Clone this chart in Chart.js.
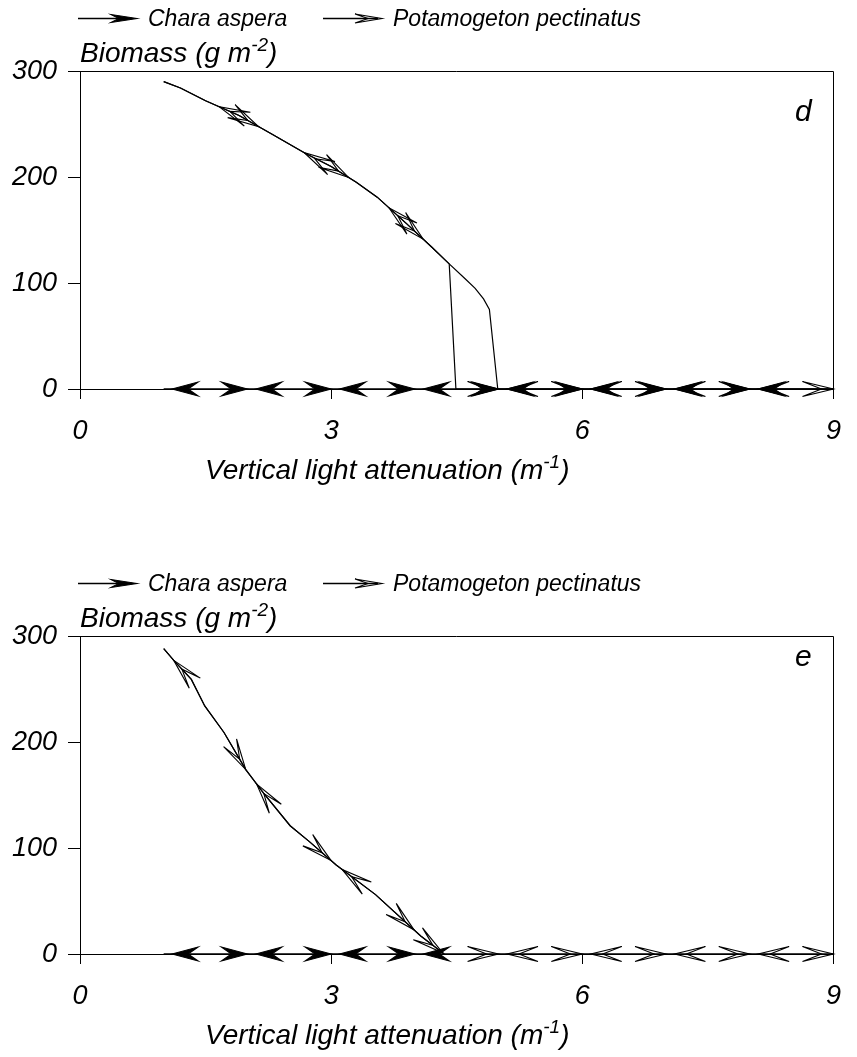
<!DOCTYPE html>
<html>
<head>
<meta charset="utf-8">
<script src="https://cdn.jsdelivr.net/npm/chart.js@4.4.1/dist/chart.umd.min.js"></script>
<style>
  html, body { margin: 0; padding: 0; background: #fff; overflow: hidden; }
  .panel { position: absolute; left: 0; width: 857px; }
  .panel canvas { position: absolute; left: 0; top: 0; }
  .txt { position: absolute; font-family: "Liberation Sans", Arial, sans-serif; font-style: italic;
         color: #000; white-space: nowrap; }
  .leg { font-size: 23px; line-height: 23px; top: 7px; }
  .ytitle { font-size: 28px; line-height: 28px; left: 80px; top: 39px; }
  .xtitle { font-size: 28px; line-height: 28px; left: 205px; top: 456px; }
  .letter { font-size: 30px; line-height: 30px; left: 795px; }
  .sup { font-size: 68%; position: relative; top: -0.6em; }
</style>
</head>
<body>

<div class="panel" style="top:0;height:565px">
  <canvas id="chartD" width="857" height="565"></canvas>
  <div class="txt leg" style="left:148px">Chara aspera</div>
  <div class="txt leg" style="left:393px">Potamogeton pectinatus</div>
  <div class="txt ytitle">Biomass (g m<span class="sup">-2</span>)</div>
  <div class="txt xtitle">Vertical light attenuation (m<span class="sup">-1</span>)</div>
  <div class="txt letter" style="top:96px">d</div>
</div>

<div class="panel" style="top:565px;height:492px">
  <canvas id="chartE" width="857" height="492"></canvas>
  <div class="txt leg" style="left:148px">Chara aspera</div>
  <div class="txt leg" style="left:393px">Potamogeton pectinatus</div>
  <div class="txt ytitle">Biomass (g m<span class="sup">-2</span>)</div>
  <div class="txt xtitle">Vertical light attenuation (m<span class="sup">-1</span>)</div>
  <div class="txt letter" style="top:76px">e</div>
</div>

<script>
// axis ticks
var xTicks = [0, 3, 6, 9];
var yTicks = [0, 100, 200, 300];

// panel d - Potamogeton, increasing attenuation (upper branch, collapse near 5)
var potUpX_d = [1.0, 1.2, 1.5, 1.9, 2.3, 2.7, 3.0, 3.3, 3.55, 3.9, 4.2, 4.41, 4.6, 4.72, 4.82, 4.89, 4.99, 9];
var potUpY_d = [290, 284, 272, 258, 240, 222, 210, 195, 181, 156, 134, 118, 104, 95, 85, 75, 0, 0];
// panel d - Potamogeton, decreasing attenuation (recovers near 4.45)
var potDownX_d = [9, 4.49, 4.41, 4.2, 3.9, 3.55, 3.3, 3.0, 2.7, 2.3, 1.9, 1.5, 1.2, 1.0];
var potDownY_d = [0, 0, 118, 134, 156, 181, 195, 210, 222, 240, 258, 272, 284, 290];
// panel d - Chara stays at zero both ways
var charaUpX_d = [1, 9];
var charaUpY_d = [0, 0];
var charaDownX_d = [9, 1];
var charaDownY_d = [0, 0];

// panel e - Potamogeton, same branch both ways
var potUpX_e = [1.0, 1.12, 1.33, 1.49, 1.72, 1.98, 2.19, 2.51, 2.74, 3.06, 3.53, 4.07, 4.35, 9];
var potUpY_e = [288, 277, 259, 234, 209, 174, 152, 121, 106, 84, 56, 17, 0, 0];
var potDownX_e = [9, 4.35, 4.07, 3.53, 3.06, 2.74, 2.51, 2.19, 1.98, 1.72, 1.49, 1.33, 1.12, 1.0];
var potDownY_e = [0, 0, 17, 56, 84, 106, 121, 152, 174, 209, 234, 259, 277, 288];
var charaUpX_e = [1, 4.35];
var charaUpY_e = [0, 0];
var charaDownX_e = [4.35, 1];
var charaDownY_e = [0, 0];

// x positions of arrow tips along each path
var potUpTips_d = [2.13, 3.21, 4.1, 5, 6, 7, 8, 9];
var potDownTips_d = [8.1, 7.1, 6.1, 5.1, 3.69, 2.68, 1.66];
var charaUpTips_d = [2, 3, 4, 5, 6, 7, 8];
var charaDownTips_d = [8.1, 7.1, 6.1, 5.1, 4.1, 3.1, 2.1, 1.1];
var potUpTips_e = [1.98, 3.0, 3.99, 4.33, 5, 6, 7, 8, 9];
var potDownTips_e = [8.1, 7.1, 6.1, 5.1, 3.13, 2.11, 1.12];
var charaUpTips_e = [2, 3, 4];
var charaDownTips_e = [4.1, 3.1, 2.1, 1.1];

var FONT = '"Liberation Sans", Arial, sans-serif';

// head shapes: length, half width, notch distance from tip
var HEADS = {
  filled: { L: 26, W: 7, N: 16, fill: true },
  open: { L: 31, W: 7.5, N: 12, fill: false },
  legFilled: { L: 26, W: 4, N: 18, fill: true },
  legOpen: { L: 27, W: 4.5, N: 14, fill: false }
};

function pts(xs, ys) {
  return xs.map(function (x, i) { return { x: x, y: ys[i] }; });
}

function series(xs, ys, tips, head) {
  return {
    data: pts(xs, ys),
    borderColor: '#000',
    borderWidth: 1.2,
    pointRadius: 0,
    fill: false,
    tension: 0,
    arrowTips: tips,
    arrowHead: head
  };
}

// stealth-style arrow head, tip at (0,0) pointing along +x
function drawHead(ctx, x, y, ang, kind) {
  var h = HEADS[kind];
  ctx.save();
  ctx.translate(x, y);
  ctx.rotate(ang);
  ctx.beginPath();
  ctx.moveTo(0, 0);
  ctx.lineTo(-h.L, -h.W);
  ctx.lineTo(-h.N, 0);
  ctx.lineTo(-h.L, h.W);
  ctx.closePath();
  ctx.lineWidth = 1.1;
  ctx.lineJoin = 'miter';
  ctx.strokeStyle = '#000';
  if (h.fill) {
    ctx.fillStyle = '#000';
    ctx.fill();
  }
  ctx.stroke();
  ctx.restore();
}

var arrowPlugin = {
  id: 'arrowPlugin',
  afterDatasetsDraw: function (chart) {
    var ctx = chart.ctx, sx = chart.scales.x, sy = chart.scales.y;
    chart.data.datasets.forEach(function (ds) {
      if (!ds.arrowTips) return;
      var d = ds.data;
      ds.arrowTips.forEach(function (tip) {
        for (var i = 0; i < d.length - 1; i++) {
          var a = d[i], b = d[i + 1];
          var lo = Math.min(a.x, b.x), hi = Math.max(a.x, b.x);
          if (hi > lo && tip >= lo && tip <= hi) {
            var t = (tip - a.x) / (b.x - a.x);
            var yv = a.y + t * (b.y - a.y);
            var ang = Math.atan2(sy.getPixelForValue(b.y) - sy.getPixelForValue(a.y),
                                 sx.getPixelForValue(b.x) - sx.getPixelForValue(a.x));
            drawHead(ctx, sx.getPixelForValue(tip), sy.getPixelForValue(yv), ang, ds.arrowHead);
            break;
          }
        }
      });
    });
  },
  afterDraw: function (chart) {
    var ctx = chart.ctx, c = chart.chartArea;
    ctx.save();
    ctx.strokeStyle = '#000';
    ctx.lineWidth = 1;
    // top and right side of the frame
    ctx.beginPath();
    ctx.moveTo(c.left, Math.round(c.top) + 0.5);
    ctx.lineTo(Math.round(c.right) + 0.5, Math.round(c.top) + 0.5);
    ctx.lineTo(Math.round(c.right) + 0.5, c.bottom);
    ctx.stroke();
    // legend keys
    var ly = 18.5;
    ctx.lineWidth = 1.4;
    ctx.beginPath();
    ctx.moveTo(78, ly); ctx.lineTo(132, ly);
    ctx.moveTo(323, ly); ctx.lineTo(378, ly);
    ctx.stroke();
    drawHead(ctx, 137, ly, 0, 'legFilled');
    drawHead(ctx, 382, ly, 0, 'legOpen');
    ctx.restore();
  }
};

function makeChart(id, sets, bottomPad) {
  return new Chart(document.getElementById(id), {
    type: 'line',
    data: { datasets: sets },
    plugins: [arrowPlugin],
    options: {
      responsive: false,
      animation: false,
      events: [],
      layout: { padding: { left: 0, right: 10, top: 71, bottom: bottomPad } },
      plugins: { legend: { display: false }, tooltip: { enabled: false } },
      scales: {
        x: {
          type: 'linear', min: 0, max: 9,
          afterBuildTicks: function (s) { s.ticks = xTicks.map(function (v) { return { value: v }; }); },
          afterFit: function (s) { s.height = 60; },
          grid: { drawOnChartArea: false, color: '#000', tickLength: 10, lineWidth: 1 },
          border: { color: '#000', width: 1 },
          ticks: { color: '#000', padding: 16, maxRotation: 0,
                   font: { family: FONT, size: 27, style: 'italic' } }
        },
        y: {
          type: 'linear', min: 0, max: 300,
          afterBuildTicks: function (s) { s.ticks = yTicks.map(function (v) { return { value: v }; }); },
          afterFit: function (s) { s.width = 80; },
          grid: { drawOnChartArea: false, color: '#000', tickLength: 12, lineWidth: 1 },
          border: { color: '#000', width: 1 },
          ticks: { color: '#000', padding: 11,
                   font: { family: FONT, size: 27, style: 'italic' } }
        }
      }
    }
  });
}

makeChart('chartD', [
  series(charaUpX_d, charaUpY_d, charaUpTips_d, 'filled'),
  series(charaDownX_d, charaDownY_d, charaDownTips_d, 'filled'),
  series(potUpX_d, potUpY_d, potUpTips_d, 'open'),
  series(potDownX_d, potDownY_d, potDownTips_d, 'open')
], 565 - 389 - 60);

makeChart('chartE', [
  series(charaUpX_e, charaUpY_e, charaUpTips_e, 'filled'),
  series(charaDownX_e, charaDownY_e, charaDownTips_e, 'filled'),
  series(potUpX_e, potUpY_e, potUpTips_e, 'open'),
  series(potDownX_e, potDownY_e, potDownTips_e, 'open')
], 492 - 389 - 60);
</script>
</body>
</html>
